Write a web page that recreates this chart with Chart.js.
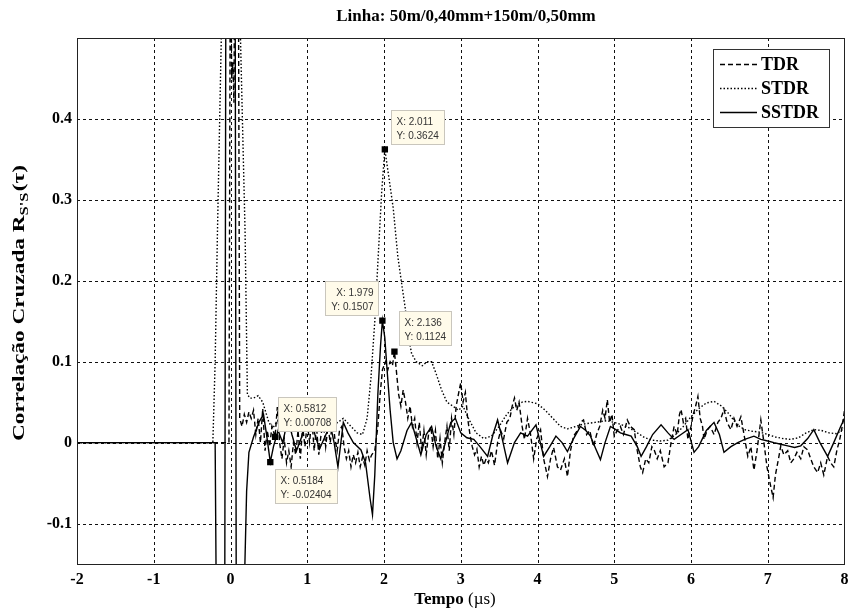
<!DOCTYPE html>
<html><head><meta charset="utf-8">
<script src="https://cdn.jsdelivr.net/npm/chart.js@4.4.0/dist/chart.umd.min.js"></script>
<style>html,body{margin:0;padding:0;background:#fff;}#wrap{width:849px;height:613px;}</style>
</head><body><div id="wrap"><canvas id="c" width="849" height="613"></canvas></div>
<script>
const titleText = 'Linha: 50m/0,40mm+150m/0,50mm';
const xTitleMain = 'Tempo ';
const xTitleUnit = '(\u00b5s)';
const yTitleMain = 'Correla\u00e7\u00e3o Cruzada R';
const yTitleSub = "S'S";
const yTitleTail = '(\u03c4)';
const xTicks = [-2,-1,0,1,2,3,4,5,6,7,8];
const yTicks = [-0.1,0,0.1,0.2,0.3,0.4];
const seriesNames = ['TDR','STDR','SSTDR'];

const tdrX = [-2,-0.02,0.0,0.015,0.03,0.045,0.06,0.1,0.12,0.15,0.18,0.21,0.24,0.27,0.3,0.33,0.36,0.39,0.42,0.45,0.48,0.51,0.54,0.5812,0.61,0.64,0.67,0.7,0.73,0.76,0.79,0.82,0.85,0.88,0.91,0.94,0.97,1.0,1.03,1.06,1.09,1.12,1.15,1.18,1.21,1.24,1.27,1.3,1.33,1.36,1.39,1.42,1.45,1.48,1.51,1.54,1.57,1.6,1.63,1.66,1.69,1.72,1.75,1.78,1.81,1.84,1.88,1.92,1.95,1.98,2.02,2.05,2.08,2.11,2.136,2.16,2.19,2.22,2.25,2.28,2.31,2.34,2.37,2.4,2.43,2.46,2.49,2.52,2.55,2.58,2.61,2.64,2.67,2.7,2.73,2.76,2.79,2.82,2.85,2.88,2.91,2.94,2.97,3.0,3.03,3.06,3.09,3.12,3.15,3.18,3.21,3.24,3.27,3.3,3.33,3.36,3.4,3.44,3.48,3.52,3.56,3.6,3.64,3.67,3.7,3.73,3.76,3.8,3.83,3.87,3.91,3.95,3.99,4.04,4.08,4.13,4.17,4.21,4.26,4.3,4.35,4.39,4.43,4.47,4.52,4.56,4.6,4.64,4.68,4.73,4.77,4.81,4.85,4.88,4.91,4.94,4.97,5.0,5.04,5.08,5.12,5.17,5.21,5.26,5.3,5.34,5.37,5.41,5.45,5.49,5.52,5.56,5.6,5.65,5.7,5.74,5.78,5.82,5.85,5.87,5.9,5.93,5.96,6.0,6.03,6.06,6.09,6.12,6.15,6.17,6.21,6.25,6.3,6.35,6.39,6.43,6.47,6.52,6.56,6.6,6.65,6.7,6.74,6.78,6.82,6.86,6.91,6.95,6.99,7.03,7.07,7.1,7.14,7.17,7.21,7.26,7.3,7.34,7.38,7.43,7.47,7.52,7.56,7.6,7.65,7.69,7.73,7.78,7.82,7.86,7.9,7.94,7.97,8.0];
const tdrY = [0,0,0.7,0.45,0.47,0.42,0.7,0.7,0.03,0.02,0.035,0.025,0.038,0.03,0.04,0.01,0.03,0.0,0.042,-0.01,0.015,-0.005,0.02,0.00708,0.044,0.0,-0.02,0.005,-0.025,-0.01,-0.03,0.0,-0.015,0.015,-0.02,0.02,-0.005,0.025,0.0,0.03,-0.01,0.02,-0.015,0.01,0.025,-0.005,0.02,0.0,0.03,0.005,-0.01,0.015,0.02,-0.005,-0.02,-0.01,-0.03,-0.015,-0.025,-0.012,-0.03,-0.018,-0.028,-0.01,-0.022,-0.015,-0.01,0.02,0.06,0.09,0.1,0.09,0.1,0.095,0.1124,0.09,0.06,0.045,0.065,0.05,0.03,0.045,0.02,0.03,0.0,0.025,-0.01,0.015,-0.015,0.01,0.02,-0.005,0.015,-0.02,0.005,-0.025,0.0,0.02,-0.01,0.03,0.01,0.045,0.06,0.074,0.05,0.062,0.03,0.01,-0.005,-0.015,-0.008,-0.03,-0.017,-0.028,-0.02,-0.025,-0.01,-0.028,0.0,0.015,0.005,0.025,0.03,0.045,0.055,0.04,0.05,0.02,0.004,0.03,0.01,-0.02,0.005,0.016,-0.02,-0.042,-0.02,-0.006,-0.03,-0.034,-0.02,-0.042,-0.01,0.008,0.015,0.025,0.028,0.01,0.015,-0.005,0.01,0.02,0.04,0.03,0.053,0.025,0.035,0.008,0.015,0.02,0.01,0.028,0.02,0.016,-0.01,-0.03,-0.037,-0.02,-0.025,-0.005,-0.009,-0.02,-0.01,-0.03,-0.025,0.0,0.02,0.01,0.035,0.041,0.025,0.03,0.004,0.02,0.035,0.045,0.057,0.03,0.02,0.004,0.015,0.02,0.01,0.025,0.03,0.041,0.025,0.016,0.03,0.02,0.032,0.005,-0.017,-0.005,-0.034,-0.01,0.028,0.0,-0.03,-0.05,-0.068,-0.04,-0.02,-0.004,-0.015,-0.01,-0.025,-0.02,-0.012,-0.02,-0.005,-0.009,-0.02,-0.03,-0.037,-0.025,-0.04,-0.017,-0.025,-0.03,-0.01,0.005,0.02,0.04];

const stdrX = [-2,-0.23,-0.2,-0.17,-0.12,-0.05,0,0.05,0.13,0.19,0.22,0.25,0.3,0.36,0.42,0.5,0.55,0.6,0.7,0.8,0.9,1.0,1.1,1.2,1.3,1.4,1.47,1.55,1.65,1.72,1.78,1.83,1.88,1.93,1.97,2.011,2.06,2.12,2.18,2.24,2.28,2.32,2.36,2.42,2.5,2.56,2.62,2.68,2.75,2.82,2.9,2.97,3.03,3.1,3.2,3.3,3.4,3.5,3.6,3.7,3.8,3.87,4.0,4.1,4.2,4.3,4.39,4.5,4.6,4.75,4.9,5.0,5.1,5.2,5.3,5.4,5.5,5.6,5.7,5.8,5.9,6.0,6.1,6.2,6.3,6.4,6.5,6.6,6.7,6.8,6.9,7.0,7.1,7.2,7.3,7.4,7.5,7.6,7.7,7.8,7.9,8.0];
const stdrY = [0,0,0.1,0.26,0.5,0.85,1.0,0.85,0.5,0.26,0.06,0.055,0.055,0.058,0.05,0.025,0.018,0.025,0.035,0.02,0.025,0.03,0.02,0.015,0.02,0.025,0.03,0.022,0.012,0.01,0.03,0.08,0.15,0.24,0.31,0.3624,0.33,0.29,0.23,0.19,0.164,0.13,0.11,0.1,0.095,0.1,0.1,0.085,0.065,0.05,0.045,0.04,0.045,0.03,0.012,0.005,0.008,0.02,0.035,0.045,0.05,0.051,0.048,0.04,0.03,0.02,0.017,0.02,0.023,0.025,0.027,0.025,0.022,0.018,0.012,0.006,0.003,0.002,0.003,0.01,0.02,0.032,0.042,0.049,0.051,0.045,0.035,0.022,0.016,0.014,0.013,0.01,0.007,0.005,0.004,0.006,0.012,0.016,0.015,0.012,0.011,0.018];

const sstdrX = [-2,-0.2,-0.185,-0.13,-0.075,-0.06,0,0.06,0.075,0.13,0.185,0.21,0.24,0.3,0.37,0.43,0.47,0.5184,0.56,0.62,0.68,0.75,0.8,0.86,0.92,0.98,1.05,1.1,1.16,1.22,1.3,1.35,1.4,1.47,1.53,1.6,1.7,1.76,1.82,1.85,1.88,1.92,1.955,1.979,2.01,2.04,2.08,2.12,2.17,2.22,2.3,2.36,2.42,2.48,2.55,2.62,2.68,2.74,2.8,2.87,2.93,3.0,3.08,3.17,3.25,3.35,3.42,3.48,3.54,3.61,3.7,3.78,3.87,3.98,4.08,4.16,4.24,4.32,4.39,4.47,4.56,4.63,4.69,4.76,4.82,4.88,4.95,5.02,5.08,5.15,5.22,5.3,5.35,5.42,5.5,5.61,5.7,5.78,5.87,5.96,6.04,6.1,6.2,6.3,6.37,6.43,6.52,6.61,6.7,6.82,6.91,7.0,7.08,7.17,7.26,7.35,7.43,7.52,7.6,7.68,7.78,7.86,7.95,8.0];
const sstdrY = [0,0,-0.2,-0.35,-0.2,0.6,1.0,0.6,-0.2,-0.35,-0.16,-0.06,-0.012,0.007,0.025,0.035,0.01,-0.02404,-0.005,0.015,0.0,0.03,0.01,-0.01,0.005,0.025,0.03,0.01,-0.008,0.005,0.022,0.0,-0.03,0.025,0.012,0.0,-0.009,-0.025,-0.07,-0.089,-0.04,0.06,0.12,0.1507,0.13,0.09,0.04,0.0,-0.02,-0.01,0.015,0.025,0.005,-0.015,0.01,0.02,-0.005,-0.02,0.0,0.025,0.03,0.012,0.006,0.004,-0.005,-0.017,0.01,0.028,0.005,-0.025,0.0,0.012,0.008,0.022,-0.017,-0.005,0.008,0.0,-0.011,0.005,0.02,0.015,0.008,-0.008,-0.021,0.0,0.02,0.016,0.012,0.01,0.008,-0.005,-0.017,-0.005,0.01,0.022,0.012,0.004,0.01,0.016,-0.012,-0.005,0.015,0.025,0.01,-0.012,-0.005,0.0,0.004,0.008,0.004,0.002,0.0,-0.002,-0.004,-0.006,-0.004,0.005,0.016,0.0,-0.017,0.0,0.02,0.03];

const tipX = [2.011,1.979,2.136,0.5812,0.5184];
const tipY = [0.3624,0.1507,0.1124,0.00708,-0.02404];

// styles
const tipStyle = [
  {dx:6, dy:-39, align:'left'},
  {dx:-58, dy:-40, align:'right'},
  {dx:5, dy:-41, align:'left'},
  {dx:3, dy:-40, align:'left'},
  {dx:5, dy:7, align:'left'}
];
const dashes = [[5,3],[1.5,2],[]];
const serif = '"Liberation Serif", "Times New Roman", serif';
const sans = '"Liberation Sans", Arial, sans-serif';

function pts(xs, ys){ return xs.map((x,i)=>({x:x, y:ys[i]})); }

const deco = {
  id:'deco',
  beforeDatasetsDraw(chart){
    const {ctx, chartArea:a, scales:{x, y}} = chart;
    ctx.save();
    ctx.strokeStyle = '#111';
    ctx.lineWidth = 1;
    ctx.setLineDash([3,3]);
    xTicks.forEach(v=>{
      const p = Math.round(x.getPixelForValue(v))+0.5;
      if (p <= a.left+1 || p >= a.right-1) return;
      ctx.beginPath(); ctx.moveTo(p, a.top); ctx.lineTo(p, a.bottom); ctx.stroke();
    });
    yTicks.forEach(v=>{
      const p = Math.round(y.getPixelForValue(v))+0.5;
      if (p <= a.top+1 || p >= a.bottom-1) return;
      ctx.beginPath(); ctx.moveTo(a.left, p); ctx.lineTo(a.right, p); ctx.stroke();
    });
    ctx.restore();
  },
  afterDatasetsDraw(chart){
    const {ctx, chartArea:a, scales:{x, y}} = chart;
    ctx.save();
    // frame
    ctx.setLineDash([]);
    ctx.strokeStyle = '#222';
    ctx.lineWidth = 1;
    ctx.strokeRect(Math.round(a.left)+0.5, Math.round(a.top)+0.5, Math.round(a.right-a.left)-1, Math.round(a.bottom-a.top));
    // data tips
    ctx.font = '10px ' + sans;
    tipX.forEach((tx,i)=>{
      const px = x.getPixelForValue(tx), py = y.getPixelForValue(tipY[i]);
      const s = tipStyle[i];
      const l1 = 'X: ' + String(tx), l2 = 'Y: ' + String(tipY[i]);
      const w = Math.ceil(Math.max(ctx.measureText(l1).width, ctx.measureText(l2).width)) + 10;
      const h = 34;
      let bx = px + s.dx; const by = py + s.dy;
      if (s.align === 'right') bx = px + s.dx + 54 - w;
      bx = Math.round(bx)+0.5;
      const byr = Math.round(by)+0.5;
      ctx.fillStyle = '#fffbea';
      ctx.fillRect(bx, byr, w, h);
      ctx.strokeStyle = '#c9c6bd';
      ctx.strokeRect(bx, byr, w, h);
      ctx.fillStyle = '#333';
      ctx.textBaseline = 'alphabetic';
      if (s.align === 'right') {
        ctx.textAlign = 'right';
        ctx.fillText(l1, bx + w - 5, byr + 14);
        ctx.fillText(l2, bx + w - 5, byr + 28);
      } else {
        ctx.textAlign = 'left';
        ctx.fillText(l1, bx + 5, byr + 14);
        ctx.fillText(l2, bx + 5, byr + 28);
      }
    });
    // legend
    const lx = 713.5, ly = 49.5, lw = 116, lh = 78;
    ctx.fillStyle = '#fff';
    ctx.fillRect(lx, ly, lw, lh);
    ctx.strokeStyle = '#333';
    ctx.strokeRect(lx, ly, lw, lh);
    const rows = [64, 88, 112];
    ctx.font = 'bold 18px ' + serif;
    ctx.textAlign = 'left';
    ctx.textBaseline = 'middle';
    chart.data.datasets.slice(0,3).forEach((ds,i)=>{
      ctx.save();
      ctx.strokeStyle = '#000';
      ctx.lineWidth = 1.5;
      ctx.setLineDash(ds.borderDash || []);
      ctx.beginPath(); ctx.moveTo(720, rows[i]+0.5); ctx.lineTo(757, rows[i]+0.5); ctx.stroke();
      ctx.restore();
      ctx.fillStyle = '#000';
      ctx.fillText(ds.label, 761, rows[i]+1);
    });
    ctx.restore();
  },
  afterDraw(chart){
    const {ctx, chartArea:a} = chart;
    ctx.save();
    ctx.fillStyle = '#000';
    // title
    ctx.font = 'bold 17px ' + serif;
    ctx.textAlign = 'center';
    ctx.textBaseline = 'alphabetic';
    ctx.fillText(titleText, 466, 21);
    // x title
    ctx.font = 'bold 17px ' + serif;
    const w1 = ctx.measureText(xTitleMain).width;
    ctx.font = '17px ' + serif;
    const w2 = ctx.measureText(xTitleUnit).width;
    let sx = 455 - (w1+w2)/2;
    ctx.textAlign = 'left';
    ctx.font = 'bold 17px ' + serif;
    ctx.fillText(xTitleMain, sx, 604);
    ctx.font = '17px ' + serif;
    ctx.fillText(xTitleUnit, sx + w1, 604);
    // y title (stretched to the reference length)
    ctx.translate(20, 303);
    ctx.rotate(-Math.PI/2);
    ctx.font = 'bold 17px ' + serif;
    const m1 = ctx.measureText(yTitleMain).width;
    const m3 = ctx.measureText(yTitleTail).width;
    ctx.font = 'bold 12px ' + serif;
    const m2 = ctx.measureText(yTitleSub).width;
    const total = m1 + m2 + m3 + 1;
    const target = 276;
    ctx.scale(target/total, 1);
    let tx = -total/2;
    ctx.textBaseline = 'middle';
    ctx.font = 'bold 17px ' + serif;
    ctx.fillText(yTitleMain, tx, 0);
    ctx.font = 'bold 12px ' + serif;
    ctx.fillText(yTitleSub, tx + m1, 5);
    ctx.font = 'bold 17px ' + serif;
    ctx.fillText(yTitleTail, tx + m1 + m2 + 1, 0);
    ctx.restore();
  }
};

const lineDs = (label, xs, ys, dash) => ({
  label, data: pts(xs, ys), borderColor:'#000', backgroundColor:'#000',
  borderWidth: 1.4, borderDash: dash, pointRadius: 0, tension: 0, fill: false, clip: 0
});

new Chart(document.getElementById('c'), {
  type: 'line',
  data: { datasets: [
    lineDs(seriesNames[0], tdrX, tdrY, dashes[0]),
    lineDs(seriesNames[1], stdrX, stdrY, dashes[1]),
    lineDs(seriesNames[2], sstdrX, sstdrY, dashes[2]),
    { label:'tips', type:'scatter', data: pts(tipX, tipY), pointStyle:'rect', pointRadius:4.5,
      backgroundColor:'#000', borderColor:'#000', borderWidth:0, showLine:false, order:-1, clip:0 }
  ]},
  options: {
    responsive:false, animation:false, devicePixelRatio:1,
    layout:{ padding:{ left:0, right:4, top:38, bottom:0 } },
    plugins:{ legend:{display:false}, title:{display:false}, tooltip:{enabled:false} },
    events: [],
    scales:{
      x:{ type:'linear', min:-2, max:8,
        afterBuildTicks: s => { s.ticks = xTicks.map(v=>({value:v})); },
        afterFit: s => { s.height = 49; s.paddingLeft = 0; s.paddingRight = 0; },
        grid:{ display:false, drawTicks:false }, border:{ display:false },
        ticks:{ font:{ family:serif, size:16, weight:'bold' }, color:'#000', padding:6, maxRotation:0, autoSkip:false,
          callback: v => String(v) } },
      y:{ type:'linear', min:-0.15, max:0.5,
        afterBuildTicks: s => { s.ticks = yTicks.map(v=>({value:v})); },
        afterFit: s => { s.width = 77; s.paddingTop = 0; s.paddingBottom = 0; },
        grid:{ display:false, drawTicks:false }, border:{ display:false },
        ticks:{ font:{ family:serif, size:16, weight:'bold' }, color:'#000', padding:5, autoSkip:false,
          callback: v => String(Math.round(v*10)/10) } }
    }
  },
  plugins:[deco]
});
</script></body></html>
